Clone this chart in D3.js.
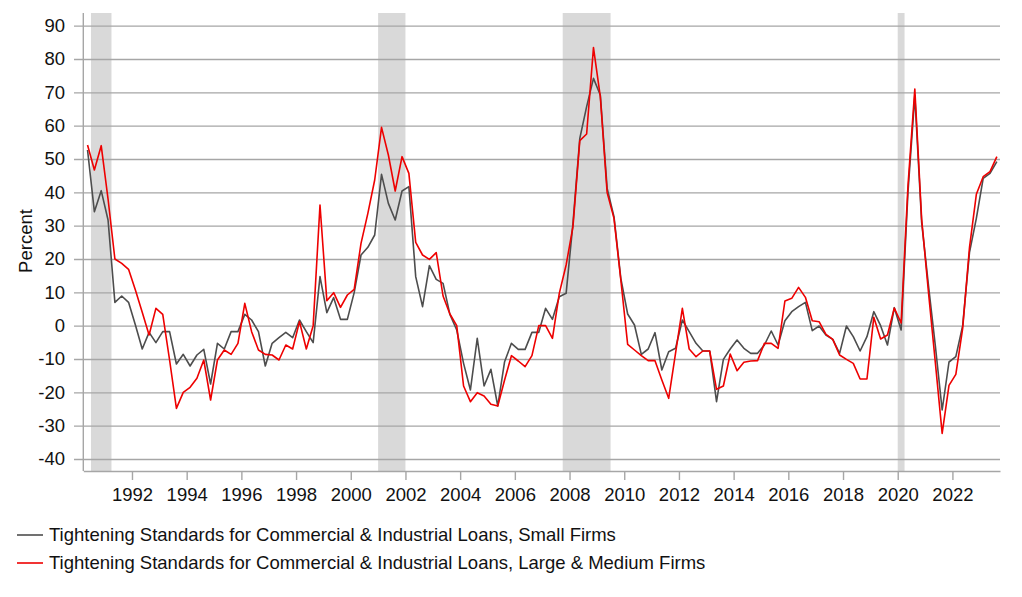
<!DOCTYPE html>
<html>
<head>
<meta charset="utf-8">
<script src="https://cdn.jsdelivr.net/npm/d3@7"></script>
<style>
  body { margin: 0; background: #fff; }
  text { font-family: Arial, "Liberation Sans", sans-serif; }
</style>
</head>
<body>
<div id="chart"></div>
<script>
// quarterly survey, first value is 1990 Q2
var firstYear = 1990, firstQuarter = 2;

// net percent of banks tightening, small firms
var smallFirms = [
  52.7, 34.2, 40.5, 31.7, 7, 8.9, 7, 0.2, -7, -2,
  -5.1, -1.8, -1.8, -11.5, -8.6, -12.1, -8.8, -7.1, -17.5, -5.3,
  -7, -1.8, -1.8, 3.4, 1.7, -1.8, -12.1, -5.3, -3.6, -2,
  -3.6, 1.7, -1.8, -5.1, 14.7, 3.9, 8.4, 1.9, 1.9, 9.9,
  21.2, 23.5, 27.2, 45.4, 36.7, 31.7, 40.4, 41.7, 14.7, 5.7,
  18, 13.9, 12.7, 3.4, -1.3, -11.3, -19.3, -3.8, -18.1, -13.1,
  -24.1, -10.8, -5.3, -7.1, -7.1, -2, -2, 5.2, 1.9, 8.7,
  9.7, 30.7, 56.2, 65.7, 74.2, 69.2, 41.2, 32.7, 14.2, 3.5,
  0.2, -8.6, -7, -2.1, -13.3, -7.8, -6.8, 1.7, -1.8, -5.3,
  -7.6, -7.6, -22.8, -10.1, -7, -4.3, -6.8, -8.3, -8.3, -5.8,
  -1.6, -5.8, 1.5, 4.2, 5.7, 7, -1.5, -0.1, -2.8, -4.1,
  -8.3, -0.1, -3.3, -7.6, -3.3, 4.2, 0, -5.8, 5.4, -1.3,
  40, 69, 31, 12, -6, -25.3, -10.9, -9.3, 0, 22,
  32.2, 44.2, 45.7, 49.2
];

// net percent of banks tightening, large & medium firms
var largeFirms = [
  54.2, 46.7, 54, 38, 20, 18.7, 16.9, 10.7, 4, -2.8,
  5.2, 3.4, -10.3, -24.8, -20, -18.5, -15.8, -10.3, -22.3, -10.3,
  -7.3, -8.6, -5.3, 6.7, -1.8, -7.3, -8.6, -8.8, -10.3, -5.8,
  -7, 1.2, -7, 0, 36.2, 7.5, 9.9, 5.5, 9.2, 10.9,
  24.7, 33.7, 43.7, 59.5, 51.2, 40.4, 50.7, 45.7, 25, 21.2,
  19.9, 21.9, 8.9, 3.5, 0, -18.1, -22.8, -20.1, -21.1, -23.6,
  -24.1, -16.3, -9, -10.6, -12.3, -9, 0, 0, -3.8, 9.7,
  18.2, 29.7, 55.5, 57.5, 83.4, 68.7, 39.9, 32.2, 13.7, -5.6,
  -7.3, -9, -10.5, -10.5, -16.3, -21.8, -8.3, 5.2, -7, -9.3,
  -7.6, -7.6, -19.1, -18.1, -8.5, -13.5, -11, -10.6, -10.5, -5.3,
  -5.3, -6.8, 7.4, 8.2, 11.5, 8.5, 1.5, 1.2, -2.6, -4.1,
  -8.8, -10.1, -11.3, -16, -16, 2.5, -4, -2.8, 5.3, 0.8,
  42, 71, 32, 10, -11, -32.3, -17.9, -14.6, -0.8, 23.5,
  39.4, 44.7, 46.2, 50.7
];

// recessions as [start, end] in fractional years
var recessions = [[1990.5, 1991.25], [2001.0, 2002.0], [2007.75, 2009.5], [2020.0, 2020.25]];

var xTicks = [1992, 1994, 1996, 1998, 2000, 2002, 2004, 2006, 2008, 2010, 2012, 2014, 2016, 2018, 2020, 2022];
var yTicks = [-40, -30, -20, -10, 0, 10, 20, 30, 40, 50, 60, 70, 80, 90];

var seriesNames = [
  "Tightening Standards for Commercial & Industrial Loans, Small Firms",
  "Tightening Standards for Commercial & Industrial Loans, Large & Medium Firms"
];
var seriesColors = ["#4d4d4d", "#ee0000"];

// position of each quarter: middle of the quarter
function quarterTime(i) {
  var q = firstQuarter - 1 + i;
  return firstYear + Math.floor(q / 4) + (q % 4) * 0.25 + 0.125;
}

var width = 1022, height = 597;
var plotLeft = 83.3, plotRight = 1000, plotTop = 13, plotBottom = 471;

var svg = d3.select("#chart")
  .append("svg")
    .attr("width", width)
    .attr("height", height);

var x = d3.scaleLinear()
  .domain([1990.22, 2023.74])
  .range([plotLeft, plotRight]);

var y = d3.scaleLinear()
  .domain([-43.6, 93.8])
  .range([plotBottom, plotTop]);

// recession shading
svg.append("g")
  .selectAll("rect")
  .data(recessions)
  .enter()
  .append("rect")
    .attr("x", d => x(d[0]))
    .attr("width", d => x(d[1]) - x(d[0]))
    .attr("y", plotTop)
    .attr("height", plotBottom - plotTop)
    .style("fill", "#d9d9d9");

// horizontal grid + y labels (plain hyphen for negatives)
var yAxis = svg.append("g")
  .attr("transform", "translate(" + plotRight + ",0)")
  .call(d3.axisLeft(y).tickValues(yTicks).tickSize(plotRight - 74).tickPadding(9).tickFormat(d => String(d)));
yAxis.select(".domain").remove();
yAxis.selectAll("line").style("stroke", "#a6a6a6").style("stroke-width", 1.4);
yAxis.selectAll("text").style("font-size", "18.5px").style("fill", "#111");

// x axis
var xAxis = svg.append("g")
  .attr("transform", "translate(0," + plotBottom + ")")
  .call(d3.axisBottom(x).tickValues(xTicks).tickSize(9).tickSizeOuter(0).tickPadding(8).tickFormat(d => String(d)));
xAxis.select(".domain").style("stroke", "#a6a6a6").style("stroke-width", 1.4);
xAxis.selectAll("line").style("stroke", "#a6a6a6").style("stroke-width", 1.4);
xAxis.selectAll("text").style("font-size", "18.5px").style("fill", "#111");

// left axis line
svg.append("line")
  .attr("x1", plotLeft).attr("x2", plotLeft)
  .attr("y1", plotTop).attr("y2", plotBottom)
  .style("stroke", "#a6a6a6")
  .style("stroke-width", 1.4);

// y title
svg.append("text")
  .attr("transform", "translate(31.5,241) rotate(-90)")
  .attr("text-anchor", "middle")
  .style("font-size", "18.5px")
  .style("fill", "#111")
  .text("Percent");

// lines
var line = d3.line()
  .x((d, i) => x(quarterTime(i)))
  .y(d => y(d));

[smallFirms, largeFirms].forEach(function(s, k) {
  svg.append("path")
    .datum(s)
    .attr("d", line)
    .style("fill", "none")
    .style("stroke", seriesColors[k])
    .style("stroke-width", 1.6)
    .style("stroke-linejoin", "round");
});

// legend
var legend = svg.append("g")
  .selectAll("g")
  .data(seriesNames)
  .enter()
  .append("g")
    .attr("transform", (d, i) => "translate(0," + (535 + i * 28) + ")");
legend.append("line")
  .attr("x1", 17).attr("x2", 43)
  .style("stroke", (d, i) => seriesColors[i])
  .style("stroke-width", 1.6);
legend.append("text")
  .attr("x", 49)
  .attr("y", 6.3)
  .style("font-size", "18.5px")
  .style("fill", "#111")
  .text(d => d);
</script>
</body>
</html>
